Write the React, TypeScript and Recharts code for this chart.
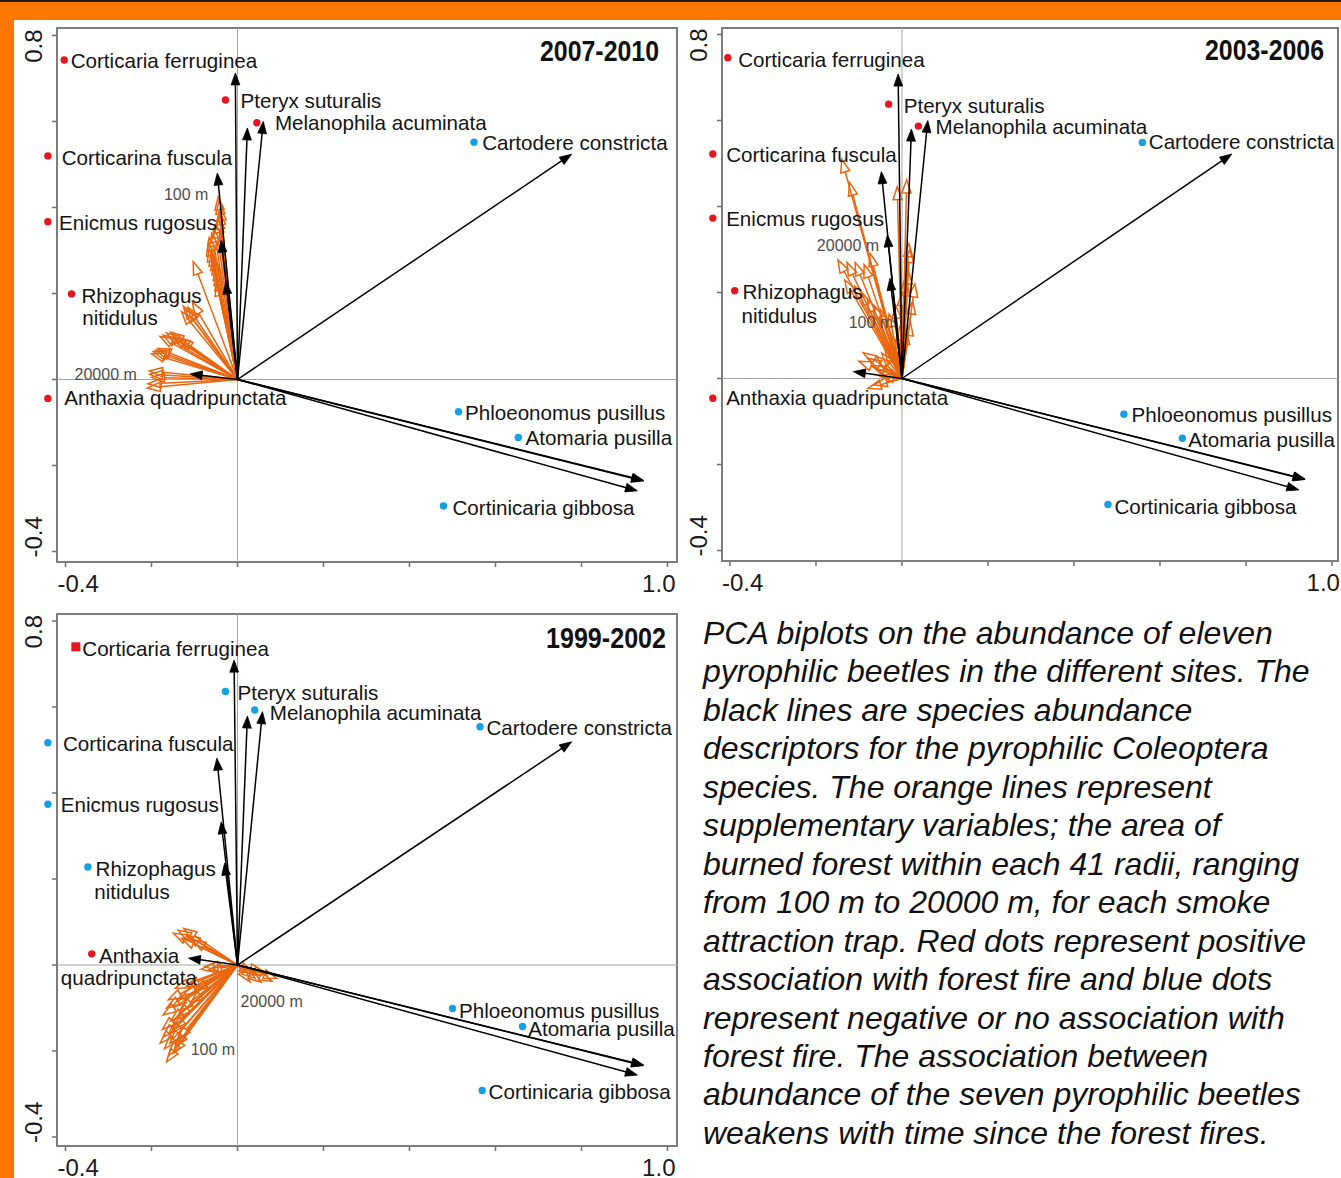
import React from 'react';
import { ComposedChart, XAxis, YAxis, ReferenceLine, ReferenceDot, ReferenceArea, Scatter } from 'recharts';

// ---------------- shared axis ticks ----------------
const X_TICKS = [-0.4, -0.2, 0, 0.2, 0.4, 0.6, 0.8, 1.0];
const Y_TICKS = [-0.4, -0.2, 0, 0.2, 0.4, 0.6, 0.8];
const X_LABELS = ['-0.4', '1.0'];
const Y_LABELS = ['0.8', '-0.4'];

const TITLES = ['2007-2010', '2003-2006', '1999-2002'];

// ---------------- 2007-2010 ----------------
const loadings2007 = [
  { species: 'Corticaria ferruginea', x: -0.005, y: 0.713 },
  { species: 'Pteryx suturalis', x: 0.023, y: 0.585 },
  { species: 'Melanophila acuminata', x: 0.06, y: 0.6 },
  { species: 'Corticarina fuscula', x: -0.047, y: 0.48 },
  { species: 'Enicmus rugosus', x: -0.038, y: 0.324 },
  { species: 'Rhizophagus nitidulus', x: -0.027, y: 0.227 },
  { species: 'Anthaxia quadripunctata', x: -0.11, y: 0.013 },
  { species: 'Cartodere constricta', x: 0.777, y: 0.524 },
  { species: 'Phloeonomus pusillus', x: 0.945, y: -0.235 },
  { species: 'Atomaria pusilla', x: 0.93, y: -0.259 },
  { species: 'Cortinicaria gibbosa', x: 0.944, y: -0.236 },
];
const radii2007: [number, number][] = [
  [-0.045, 0.425], [-0.043, 0.415], [-0.04, 0.4], [-0.042, 0.39], [-0.044, 0.38], [-0.046, 0.372],
  [-0.05, 0.36], [-0.055, 0.35], [-0.06, 0.34], [-0.066, 0.33], [-0.068, 0.318], [-0.066, 0.305],
  [-0.062, 0.295], [-0.058, 0.285], [-0.055, 0.275], [-0.052, 0.262], [-0.05, 0.25], [-0.048, 0.238],
  [-0.048, 0.225], [-0.103, 0.274], [-0.105, 0.18], [-0.115, 0.168], [-0.12, 0.162], [-0.126, 0.17],
  [-0.13, 0.158], [-0.134, 0.095], [-0.14, 0.098], [-0.149, 0.1], [-0.155, 0.11], [-0.165, 0.108],
  [-0.173, 0.103], [-0.18, 0.1], [-0.196, 0.065], [-0.19, 0.068], [-0.2, 0.06], [-0.205, 0.02],
  [-0.2, 0.005], [-0.208, -0.01], [-0.21, -0.02], [-0.204, 0.012], [-0.185, 0.072],
];
const dots2007 = [
  { species: 'Corticaria ferruginea', assoc: 'positive', x: -0.403, y: 0.743 },
  { species: 'Pteryx suturalis', assoc: 'positive', x: -0.028, y: 0.65 },
  { species: 'Melanophila acuminata', assoc: 'positive', x: 0.045, y: 0.597 },
  { species: 'Cartodere constricta', assoc: 'negative', x: 0.55, y: 0.552 },
  { species: 'Corticarina fuscula', assoc: 'positive', x: -0.441, y: 0.52 },
  { species: 'Enicmus rugosus', assoc: 'positive', x: -0.441, y: 0.367 },
  { species: 'Rhizophagus nitidulus', assoc: 'positive', x: -0.386, y: 0.199 },
  { species: 'Anthaxia quadripunctata', assoc: 'positive', x: -0.441, y: -0.044 },
  { species: 'Phloeonomus pusillus', assoc: 'negative', x: 0.514, y: -0.075 },
  { species: 'Atomaria pusilla', assoc: 'negative', x: 0.653, y: -0.135 },
  { species: 'Cortinicaria gibbosa', assoc: 'negative', x: 0.479, y: -0.294 },
];
const texts2007 = [
  { text: 'Corticaria ferruginea', x: -0.388, y: 0.741 },
  { text: 'Pteryx suturalis', x: 0.007, y: 0.648 },
  { text: 'Melanophila acuminata', x: 0.087, y: 0.597 },
  { text: 'Cartodere constricta', x: 0.569, y: 0.552 },
  { text: 'Corticarina fuscula', x: -0.409, y: 0.517 },
  { text: 'Enicmus rugosus', x: -0.415, y: 0.366 },
  { text: 'Rhizophagus', x: -0.363, y: 0.194 },
  { text: 'nitidulus', x: -0.361, y: 0.145 },
  { text: 'Anthaxia quadripunctata', x: -0.403, y: -0.043 },
  { text: 'Phloeonomus pusillus', x: 0.529, y: -0.076 },
  { text: 'Atomaria pusilla', x: 0.67, y: -0.136 },
  { text: 'Cortinicaria gibbosa', x: 0.5, y: -0.297 },
];
const notes2007 = [
  { text: '100 m', x: -0.171, y: 0.431 },
  { text: '20000 m', x: -0.379, y: 0.012 },
];

// ---------------- 2003-2006 ----------------
const loadings2003 = [
  { species: 'Corticaria ferruginea', x: -0.009, y: 0.708 },
  { species: 'Pteryx suturalis', x: 0.022, y: 0.58 },
  { species: 'Melanophila acuminata', x: 0.06, y: 0.6 },
  { species: 'Corticarina fuscula', x: -0.048, y: 0.481 },
  { species: 'Enicmus rugosus', x: -0.034, y: 0.334 },
  { species: 'Rhizophagus nitidulus', x: -0.028, y: 0.233 },
  { species: 'Anthaxia quadripunctata', x: -0.113, y: 0.016 },
  { species: 'Cartodere constricta', x: 0.767, y: 0.522 },
  { species: 'Phloeonomus pusillus', x: 0.938, y: -0.234 },
  { species: 'Atomaria pusilla', x: 0.923, y: -0.259 },
  { species: 'Cortinicaria gibbosa', x: 0.937, y: -0.235 },
];
const radii2003: [number, number][] = [
  [-0.14, 0.51], [-0.122, 0.456], [-0.074, 0.291], [-0.011, 0.446], [0.011, 0.462], [0.016, 0.314],
  [0.018, 0.3], [-0.149, 0.276], [-0.128, 0.27], [-0.109, 0.27], [-0.088, 0.265], [-0.133, 0.229],
  [-0.11, 0.215], [-0.095, 0.2], [-0.08, 0.185], [-0.065, 0.17], [-0.05, 0.16], [-0.03, 0.15],
  [-0.015, 0.17], [0.0, 0.2], [0.008, 0.23], [0.015, 0.25], [-0.005, 0.12], [0.01, 0.11],
  [0.02, 0.13], [-0.078, 0.047], [-0.059, 0.051], [-0.047, 0.059], [-0.07, 0.03], [-0.055, 0.02],
  [-0.079, -0.023], [-0.065, -0.015], [-0.05, 0.005], [-0.04, 0.07], [-0.03, 0.08], [-0.09, 0.06],
  [-0.1, 0.04], [-0.025, 0.1], [-0.012, 0.09], [0.025, 0.18], [0.03, 0.22],
];
const dots2003 = [
  { species: 'Corticaria ferruginea', assoc: 'positive', x: -0.405, y: 0.746 },
  { species: 'Pteryx suturalis', assoc: 'positive', x: -0.031, y: 0.638 },
  { species: 'Melanophila acuminata', assoc: 'positive', x: 0.038, y: 0.587 },
  { species: 'Cartodere constricta', assoc: 'negative', x: 0.559, y: 0.549 },
  { species: 'Corticarina fuscula', assoc: 'positive', x: -0.44, y: 0.522 },
  { species: 'Enicmus rugosus', assoc: 'positive', x: -0.44, y: 0.373 },
  { species: 'Rhizophagus nitidulus', assoc: 'positive', x: -0.389, y: 0.204 },
  { species: 'Anthaxia quadripunctata', assoc: 'positive', x: -0.44, y: -0.046 },
  { species: 'Phloeonomus pusillus', assoc: 'negative', x: 0.516, y: -0.083 },
  { species: 'Atomaria pusilla', assoc: 'negative', x: 0.652, y: -0.139 },
  { species: 'Cortinicaria gibbosa', assoc: 'negative', x: 0.479, y: -0.293 },
];
const texts2003 = [
  { text: 'Corticaria ferruginea', x: -0.381, y: 0.741 },
  { text: 'Pteryx suturalis', x: 0.004, y: 0.634 },
  { text: 'Melanophila acuminata', x: 0.078, y: 0.587 },
  { text: 'Cartodere constricta', x: 0.574, y: 0.55 },
  { text: 'Corticarina fuscula', x: -0.409, y: 0.52 },
  { text: 'Enicmus rugosus', x: -0.409, y: 0.371 },
  { text: 'Rhizophagus', x: -0.371, y: 0.201 },
  { text: 'nitidulus', x: -0.373, y: 0.146 },
  { text: 'Anthaxia quadripunctata', x: -0.409, y: -0.045 },
  { text: 'Phloeonomus pusillus', x: 0.534, y: -0.085 },
  { text: 'Atomaria pusilla', x: 0.666, y: -0.143 },
  { text: 'Cortinicaria gibbosa', x: 0.494, y: -0.297 },
];
const notes2003 = [
  { text: '20000 m', x: -0.198, y: 0.311 },
  { text: '100 m', x: -0.124, y: 0.131 },
];

// ---------------- 1999-2002 ----------------
const loadings1999 = [
  { species: 'Corticaria ferruginea', x: -0.008, y: 0.709 },
  { species: 'Pteryx suturalis', x: 0.023, y: 0.579 },
  { species: 'Melanophila acuminata', x: 0.058, y: 0.589 },
  { species: 'Corticarina fuscula', x: -0.048, y: 0.481 },
  { species: 'Enicmus rugosus', x: -0.038, y: 0.333 },
  { species: 'Rhizophagus nitidulus', x: -0.03, y: 0.237 },
  { species: 'Anthaxia quadripunctata', x: -0.114, y: 0.016 },
  { species: 'Cartodere constricta', x: 0.777, y: 0.519 },
  { species: 'Phloeonomus pusillus', x: 0.945, y: -0.233 },
  { species: 'Atomaria pusilla', x: 0.93, y: -0.256 },
  { species: 'Cortinicaria gibbosa', x: 0.944, y: -0.234 },
];
const radii1999: [number, number][] = [
  [-0.149, 0.074], [-0.138, 0.081], [-0.118, 0.069], [-0.13, 0.062], [-0.105, 0.058], [-0.125, 0.085],
  [-0.076, -0.004], [-0.068, -0.012], [-0.085, -0.01],
  [-0.145, -0.054], [-0.161, -0.081], [-0.173, -0.116], [-0.126, -0.07], [-0.11, -0.089], [-0.134, -0.105],
  [-0.15, -0.095], [-0.165, -0.1], [-0.12, -0.05], [-0.1, -0.06], [-0.14, -0.12], [-0.155, -0.13],
  [-0.173, -0.167], [-0.157, -0.182], [-0.149, -0.205], [-0.138, -0.174], [-0.18, -0.182], [-0.165, -0.225],
  [-0.17, -0.195], [-0.16, -0.16], [-0.15, -0.15], [-0.175, -0.15], [-0.145, -0.19], [-0.16, -0.21],
  [0.041, -0.031], [0.068, -0.023], [0.091, -0.031], [0.029, -0.039], [0.055, -0.04], [0.08, -0.038],
  [0.035, -0.02], [0.06, -0.015],
];
const dots1999 = [
  { species: 'Corticaria ferruginea', assoc: 'positive', x: -0.376, y: 0.74, marker: 'square' },
  { species: 'Pteryx suturalis', assoc: 'negative', x: -0.028, y: 0.636 },
  { species: 'Melanophila acuminata', assoc: 'negative', x: 0.04, y: 0.593 },
  { species: 'Cartodere constricta', assoc: 'negative', x: 0.564, y: 0.554 },
  { species: 'Corticarina fuscula', assoc: 'negative', x: -0.441, y: 0.517 },
  { species: 'Enicmus rugosus', assoc: 'negative', x: -0.441, y: 0.374 },
  { species: 'Rhizophagus nitidulus', assoc: 'negative', x: -0.348, y: 0.228 },
  { species: 'Anthaxia quadripunctata', assoc: 'positive', x: -0.339, y: 0.026 },
  { species: 'Phloeonomus pusillus', assoc: 'negative', x: 0.5, y: -0.101 },
  { species: 'Atomaria pusilla', assoc: 'negative', x: 0.663, y: -0.143 },
  { species: 'Cortinicaria gibbosa', assoc: 'negative', x: 0.569, y: -0.292 },
];
const texts1999 = [
  { text: 'Corticaria ferruginea', x: -0.361, y: 0.737 },
  { text: 'Pteryx suturalis', x: 0.0, y: 0.633 },
  { text: 'Melanophila acuminata', x: 0.075, y: 0.588 },
  { text: 'Cartodere constricta', x: 0.579, y: 0.551 },
  { text: 'Corticarina fuscula', x: -0.406, y: 0.516 },
  { text: 'Enicmus rugosus', x: -0.411, y: 0.372 },
  { text: 'Rhizophagus', x: -0.33, y: 0.225 },
  { text: 'nitidulus', x: -0.333, y: 0.171 },
  { text: 'Anthaxia', x: -0.322, y: 0.023 },
  { text: 'quadripunctata', x: -0.411, y: -0.029 },
  { text: 'Phloeonomus pusillus', x: 0.515, y: -0.105 },
  { text: 'Atomaria pusilla', x: 0.676, y: -0.147 },
  { text: 'Cortinicaria gibbosa', x: 0.584, y: -0.295 },
];
const notes1999 = [
  { text: '20000 m', x: 0.007, y: -0.084 },
  { text: '100 m', x: -0.109, y: -0.196 },
];

const CAPTION_LINES = [
  'PCA biplots on the abundance of eleven',
  'pyrophilic beetles in the different sites. The',
  'black lines are species abundance',
  'descriptors for the pyrophilic Coleoptera',
  'species. The orange lines represent',
  'supplementary variables; the area of',
  'burned forest within each 41 radii, ranging',
  'from 100 m to 20000 m, for each smoke',
  'attraction trap. Red dots represent positive',
  'association with forest fire and blue dots',
  'represent negative or no association with',
  'forest fire. The association between',
  'abundance of the seven pyrophilic beetles',
  'weakens with time since the forest fires.',
];

// ---------------- styling ----------------
const FONT = '"Liberation Sans", Arial, Helvetica, sans-serif';
const C = {
  bg: '#FF7700',
  pos: '#E8141F',
  neg: '#169FE4',
  orange: '#E9660F',
  black: '#000000',
  box: '#7d7d7d',
  zero: '#a3a3a3',
  text: '#141414',
  note: '#4d4d4d',
  tick: '#1a1a1a',
};

function makeArrow(color: string, open: boolean) {
  return (p: any) => {
    const { x1, y1, x2, y2 } = p;
    if ([x1, y1, x2, y2].some((v) => typeof v !== 'number' || isNaN(v))) return <g />;
    const dx = x2 - x1;
    const dy = y2 - y1;
    const L = Math.hypot(dx, dy) || 1;
    const ux = dx / L;
    const uy = dy / L;
    const hl = open ? 13 : 12;
    const hw = open ? 4.6 : 4.4;
    const bx = x2 - ux * hl;
    const by = y2 - uy * hl;
    const nx = -uy * hw;
    const ny = ux * hw;
    const pts = `${x2},${y2} ${bx + nx},${by + ny} ${bx - nx},${by - ny}`;
    return (
      <g>
        <line
          x1={x1}
          y1={y1}
          x2={open ? bx : x2 - ux * 5}
          y2={open ? by : y2 - uy * 5}
          stroke={color}
          strokeWidth={open ? 1.5 : 1.5}
        />
        <polygon points={pts} fill={open ? 'none' : color} stroke={color} strokeWidth={open ? 1.5 : 0.8} />
      </g>
    );
  };
}
const orangeArrow = makeArrow(C.orange, true);
const blackArrow = makeArrow(C.black, false);

const near = (a: number, b: number) => Math.abs(a - b) < 1e-6;

const renderXTick = (p: any) => {
  const v = p.payload?.value;
  const style = { fontFamily: FONT, fontSize: 24, fill: C.tick };
  if (near(v, X_TICKS[0])) {
    return (
      <text x={p.x - 8} y={p.y + 23} textAnchor="start" style={style}>
        {X_LABELS[0]}
      </text>
    );
  }
  if (near(v, X_TICKS[X_TICKS.length - 1])) {
    return (
      <text x={p.x + 8} y={p.y + 23} textAnchor="end" style={style}>
        {X_LABELS[1]}
      </text>
    );
  }
  return <g />;
};

const renderYTick = (p: any) => {
  const v = p.payload?.value;
  const style = { fontFamily: FONT, fontSize: 24, fill: C.tick };
  const bx = p.x - 8;
  if (near(v, Y_TICKS[Y_TICKS.length - 1])) {
    const by = p.y - 6;
    return (
      <text x={bx} y={by} transform={`rotate(-90 ${bx} ${by})`} textAnchor="end" style={style}>
        {Y_LABELS[0]}
      </text>
    );
  }
  if (near(v, Y_TICKS[0])) {
    const by = p.y + 6;
    return (
      <text x={bx} y={by} transform={`rotate(-90 ${bx} ${by})`} textAnchor="start" style={style}>
        {Y_LABELS[1]}
      </text>
    );
  }
  return <g />;
};

type PanelProps = {
  width: number;
  height: number;
  margin: { top: number; right: number; bottom: number; left: number };
  yAxisWidth: number;
  xAxisHeight: number;
  xDomain: [number, number];
  yDomain: [number, number];
  loadings: { species: string; x: number; y: number }[];
  radii: [number, number][];
  dots: { species: string; assoc: string; x: number; y: number; marker?: string }[];
  texts: { text: string; x: number; y: number }[];
  notes: { text: string; x: number; y: number }[];
};

function Panel(props: PanelProps) {
  const { width, height, margin, yAxisWidth, xAxisHeight, xDomain, yDomain, loadings, radii, dots, texts, notes } =
    props;
  const radiiRows = radii.map(([x, y]) => ({ x, y }));
  return (
    <ComposedChart width={width} height={height} margin={margin}>
      <XAxis
        type="number"
        dataKey="x"
        domain={xDomain}
        ticks={X_TICKS}
        allowDataOverflow
        interval={0}
        axisLine={false}
        tickSize={5}
        tickLine={{ stroke: '#6e6e6e', strokeWidth: 1.5 }}
        height={xAxisHeight}
        tick={renderXTick}
      />
      <YAxis
        type="number"
        dataKey="y"
        domain={yDomain}
        ticks={Y_TICKS}
        allowDataOverflow
        interval={0}
        axisLine={false}
        tickSize={5}
        tickLine={{ stroke: '#6e6e6e', strokeWidth: 1.5 }}
        width={yAxisWidth}
        tick={renderYTick}
      />
      <ReferenceArea
        x1={xDomain[0]}
        x2={xDomain[1]}
        y1={yDomain[0]}
        y2={yDomain[1]}
        fill="none"
        fillOpacity={0}
        stroke={C.box}
        strokeWidth={2}
        ifOverflow="visible"
      />
      <ReferenceLine x={0} stroke={C.zero} strokeWidth={1} ifOverflow="visible" />
      <ReferenceLine y={0} stroke={C.zero} strokeWidth={1} ifOverflow="visible" />
      <Scatter data={loadings} dataKey="y" shape={() => <g />} isAnimationActive={false} legendType="none" />
      {radiiRows.map((r, i) => (
        <ReferenceLine
          key={`o${i}`}
          segment={[
            { x: 0, y: 0 },
            { x: r.x, y: r.y },
          ]}
          ifOverflow="visible"
          shape={orangeArrow}
        />
      ))}
      {loadings.map((l, i) => (
        <ReferenceLine
          key={`b${i}`}
          segment={[
            { x: 0, y: 0 },
            { x: l.x, y: l.y },
          ]}
          ifOverflow="visible"
          shape={blackArrow}
        />
      ))}
      {dots.map((d, i) => {
        const fill = d.assoc === 'positive' ? C.pos : C.neg;
        return (
          <ReferenceDot
            key={`d${i}`}
            x={d.x}
            y={d.y}
            r={3.6}
            ifOverflow="visible"
            shape={(p: any) =>
              d.marker === 'square' ? (
                <rect x={p.cx - 4.5} y={p.cy - 4.5} width={9} height={9} fill={fill} />
              ) : (
                <circle cx={p.cx} cy={p.cy} r={3.7} fill={fill} />
              )
            }
          />
        );
      })}
      {texts.map((t, i) => (
        <ReferenceDot
          key={`t${i}`}
          x={t.x}
          y={t.y}
          r={1}
          ifOverflow="visible"
          shape={(p: any) => (
            <text
              x={p.cx}
              y={p.cy}
              dy="0.36em"
              style={{ fontFamily: FONT, fontSize: 20.6, fill: C.text }}
            >
              {t.text}
            </text>
          )}
        />
      ))}
      {notes.map((t, i) => (
        <ReferenceDot
          key={`n${i}`}
          x={t.x}
          y={t.y}
          r={1}
          ifOverflow="visible"
          shape={(p: any) => (
            <text x={p.cx} y={p.cy} dy="0.36em" style={{ fontFamily: FONT, fontSize: 16, fill: C.note }}>
              {t.text}
            </text>
          )}
        />
      ))}
    </ComposedChart>
  );
}

export default function App() {
  return (
    <div
      style={{
        position: 'absolute',
        left: 0,
        top: 0,
        width: 1341,
        height: 1178,
        background: C.bg,
        overflow: 'hidden',
        fontFamily: FONT,
      }}
    >
      <div style={{ position: 'absolute', left: 0, top: 0, width: 1341, height: 2, background: '#2a1a0c' }} />
      <div style={{ position: 'absolute', left: 14, top: 20, width: 1327, height: 1158, background: '#ffffff' }} />

      <div style={{ position: 'absolute', left: 0, top: 0 }}>
        <Panel
          width={680}
          height={605}
          margin={{ top: 28, right: 3, bottom: 0, left: 0 }}
          yAxisWidth={57}
          xAxisHeight={43}
          xDomain={[-0.4198, 1.0221]}
          yDomain={[-0.4244, 0.8174]}
          loadings={loadings2007}
          radii={radii2007}
          dots={dots2007}
          texts={texts2007}
          notes={notes2007}
        />
      </div>
      <div style={{ position: 'absolute', left: 680, top: 0 }}>
        <Panel
          width={661}
          height={605}
          margin={{ top: 28, right: 3, bottom: 0, left: 0 }}
          yAxisWidth={42}
          xAxisHeight={44}
          xDomain={[-0.4186, 1.014]}
          yDomain={[-0.4244, 0.8151]}
          loadings={loadings2003}
          radii={radii2003}
          dots={dots2003}
          texts={texts2003}
          notes={notes2003}
        />
      </div>
      <div style={{ position: 'absolute', left: 0, top: 600 }}>
        <Panel
          width={680}
          height={578}
          margin={{ top: 14, right: 3, bottom: 0, left: 0 }}
          yAxisWidth={57}
          xAxisHeight={32}
          xDomain={[-0.4198, 1.0221]}
          yDomain={[-0.4209, 0.8163]}
          loadings={loadings1999}
          radii={radii1999}
          dots={dots1999}
          texts={texts1999}
          notes={notes1999}
        />
      </div>

      <svg
        width={1341}
        height={1178}
        style={{ position: 'absolute', left: 0, top: 0, pointerEvents: 'none' }}
      >
        <text
          x={659}
          y={61}
          textAnchor="end"
          textLength={119}
          lengthAdjust="spacingAndGlyphs"
          style={{ fontFamily: FONT, fontSize: 29, fontWeight: 700, fill: '#111' }}
        >
          {TITLES[0]}
        </text>
        <text
          x={1324}
          y={60}
          textAnchor="end"
          textLength={119}
          lengthAdjust="spacingAndGlyphs"
          style={{ fontFamily: FONT, fontSize: 29, fontWeight: 700, fill: '#111' }}
        >
          {TITLES[1]}
        </text>
        <text
          x={666}
          y={648}
          textAnchor="end"
          textLength={120}
          lengthAdjust="spacingAndGlyphs"
          style={{ fontFamily: FONT, fontSize: 29, fontWeight: 700, fill: '#111' }}
        >
          {TITLES[2]}
        </text>
      </svg>

      <div
        style={{
          position: 'absolute',
          left: 703,
          top: 614,
          fontFamily: FONT,
          fontStyle: 'italic',
          fontSize: 32,
          lineHeight: '38.45px',
          color: '#111',
          whiteSpace: 'nowrap',
        }}
      >
        {CAPTION_LINES.map((l, i) => (
          <div key={i}>{l}</div>
        ))}
      </div>
    </div>
  );
}
